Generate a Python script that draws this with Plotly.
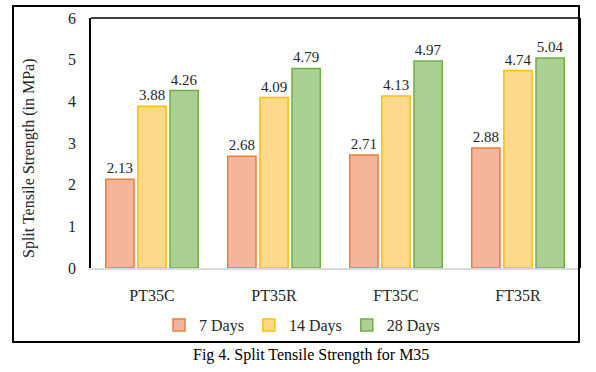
import plotly.graph_objects as go

categories = ["PT35C", "PT35R", "FT35C", "FT35R"]
days7 = [2.13, 2.68, 2.71, 2.88]
days14 = [3.88, 4.09, 4.13, 4.74]
days28 = [4.26, 4.79, 4.97, 5.04]
series_names = ["7 Days", "14 Days", "28 Days"]
y_ticks = [0, 1, 2, 3, 4, 5, 6]

FONT = "Liberation Serif, Times New Roman, serif"
fills = ["#F5B59B", "#FED98C", "#AAD192"]
lines = ["#ED7D31", "#FFC000", "#70AD47"]

fig = go.Figure()
for name, vals, fc, lc in zip(series_names, [days7, days14, days28], fills, lines):
    fig.add_trace(go.Bar(
        x=categories, y=vals, name=name,
        marker=dict(color=fc, line=dict(color=lc, width=1.5)),
        text=[f"{v:.2f}" for v in vals], textposition="outside",
        textfont=dict(family=FONT, size=15, color="#262626"),
        cliponaxis=False,
    ))

W, H = 596, 372
L, R, T, B = 91, 17, 18, 104
pw, ph = W - L - R, H - T - B

def px(x):
    return (x - L) / pw

def py(y):
    return (H - B - y) / ph

fig.update_layout(
    width=W, height=H,
    margin=dict(l=L, r=R, t=T, b=B, autoexpand=False),
    paper_bgcolor="white", plot_bgcolor="white",
    barmode="group", bargap=0.21, bargroupgap=0.12,
    font=dict(family=FONT, size=14, color="#000000"),
    showlegend=True,
    legend=dict(orientation="h", x=px(302), xanchor="center", y=py(325), yanchor="middle",
                font=dict(family=FONT, size=16, color="#262626"),
                itemwidth=30, tracegroupgap=0, bgcolor="rgba(0,0,0,0)"),
    xaxis=dict(showgrid=False, showline=True, linecolor="#D9D9D9", linewidth=2,
               ticks="", tickfont=dict(family=FONT, size=16, color="#262626"),
               ticklabelstandoff=12, automargin=False),
    yaxis=dict(range=[0, 6], tickvals=y_ticks, showgrid=False, zeroline=False,
               showline=True, linecolor="#000000", linewidth=1.5, mirror=True,
               ticks="", tickfont=dict(family=FONT, size=16, color="#262626"),
               ticklabelstandoff=10, automargin=False),
    shapes=[
        dict(type="line", xref="paper", yref="paper", x0=0, x1=1, y0=1, y1=1,
             line=dict(color="#000000", width=1.5)),
        dict(type="rect", xref="paper", yref="paper",
             x0=px(13), x1=px(579), y0=py(342), y1=py(6),
             line=dict(color="#000000", width=2)),
    ],
    annotations=[
        dict(text="Split Tensile Strength (in MPa)", xref="paper", yref="paper",
             x=px(29), y=py(159), textangle=-90, showarrow=False,
             xanchor="center", yanchor="middle",
             font=dict(family=FONT, size=16, color="#262626")),
        dict(text="Fig 4. Split Tensile Strength for M35", xref="paper", yref="paper",
             x=px(311), y=py(355), showarrow=False, xanchor="center", yanchor="middle",
             font=dict(family=FONT, size=16, color="#000000")),
    ],
)

fig.write_html("out.html", config={"displayModeBar": False},
               post_script="document.body.style.margin='0';document.body.style.overflow='hidden';")
